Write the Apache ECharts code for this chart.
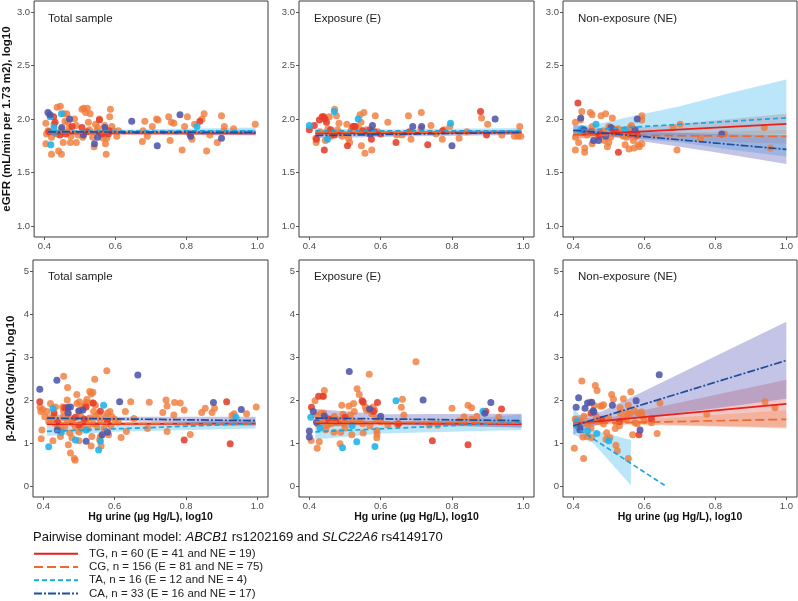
<!DOCTYPE html>
<html><head><meta charset="utf-8">
<script src="https://cdn.jsdelivr.net/npm/echarts@6/dist/echarts.min.js"></script>
<style>html,body{margin:0;padding:0;background:#fff}#c{width:798px;height:601px}</style>
</head><body><div id="c"></div><script>
// ---------- labels ----------
const xTicks = [0.4, 0.6, 0.8, 1.0];
const yTicksTop = [1.0, 1.5, 2.0, 2.5, 3.0];
const yTicksBottom = [0, 1, 2, 3, 4, 5];
const panelTitles = ['Total sample', 'Exposure (E)', 'Non-exposure (NE)'];
const yTitleTop = 'eGFR (mL/min per 1.73 m2), log10';
const yTitleBottom = 'β-2MCG (ng/mL), log10';
const xTitle = 'Hg urine (µg Hg/L), log10';
const groups = ['TG', 'CG', 'TA', 'CA'];
const legendNames = [
  'TG, n = 60 (E = 41 and NE = 19)',
  'CG, n = 156 (E = 81 and NE = 75)',
  'TA, n = 16 (E = 12 and NE = 4)',
  'CA, n = 33 (E = 16 and NE = 17)'
];

// ---------- eGFR, total sample ----------
const egfrTotCG = [[0.404,1.96],[0.406,1.86],[0.404,1.77],[0.42,1.67],[0.41,1.89],[0.42,1.83],[0.427,1.95],[0.436,2.11],[0.445,2.12],[0.434,1.86],[0.44,1.70],[0.448,1.67],[0.448,1.90],[0.453,1.78],[0.455,2.05],[0.458,1.98],[0.463,2.05],[0.466,1.97],[0.466,1.88],[0.47,1.92],[0.473,1.78],[0.475,1.84],[0.485,2.0],[0.49,1.94],[0.49,1.78],[0.495,1.85],[0.506,2.09],[0.508,1.83],[0.511,2.10],[0.516,2.06],[0.521,2.10],[0.524,1.97],[0.527,1.90],[0.529,2.05],[0.536,1.83],[0.54,1.74],[0.544,1.95],[0.548,1.89],[0.55,1.92],[0.555,2.0],[0.563,1.87],[0.566,1.82],[0.57,1.94],[0.572,1.77],[0.574,1.67],[0.576,1.82],[0.584,2.02],[0.586,2.09],[0.59,1.93],[0.595,1.89],[0.604,1.84],[0.609,1.89],[0.678,1.89],[0.676,1.79],[0.683,1.98],[0.69,1.84],[0.704,1.93],[0.716,2.0],[0.72,1.99],[0.75,2.02],[0.754,1.80],[0.758,1.97],[0.765,1.96],[0.788,1.71],[0.795,1.93],[0.803,2.02],[0.816,1.81],[0.823,1.95],[0.844,2.0],[0.85,2.05],[0.857,1.70],[0.866,1.85],[0.887,1.78],[0.899,2.03],[0.907,1.93],[0.906,1.89],[0.933,1.91],[0.994,1.95]];
const egfrTotTG = [[0.413,1.88],[0.426,2.02],[0.444,1.85],[0.478,1.93],[0.506,1.92],[0.555,1.99],[0.562,1.86],[0.582,1.89],[0.43,1.97],[0.46,1.86],[0.52,1.88],[0.58,1.86],[0.838,1.98],[0.81,1.86]];
const egfrTotTA = [[0.416,2.02],[0.448,2.05],[0.427,1.92],[0.418,1.76],[0.83,1.93],[0.43,1.87]];
const egfrTotCA = [[0.41,2.06],[0.416,2.04],[0.449,1.92],[0.471,2.0],[0.51,1.85],[0.541,1.77],[0.55,1.83],[0.57,1.92],[0.646,1.98],[0.718,1.75],[0.782,2.04],[0.812,1.84],[0.899,1.82]];
const egfrTotFits = [ [[0.41,1.865],[0.995,1.865]], [[0.41,1.87],[0.995,1.875]], [[0.41,1.885],[0.995,1.89]], [[0.41,1.88],[0.995,1.875]] ];
const egfrTotBands = [
  [[0.41,1.85,1.88],[0.6,1.855,1.875],[0.995,1.845,1.885]],
  [[0.41,1.858,1.882],[0.6,1.862,1.878],[0.995,1.86,1.89]],
  [[0.41,1.86,1.91],[0.6,1.87,1.90],[0.995,1.86,1.92]],
  [[0.41,1.86,1.90],[0.6,1.865,1.89],[0.995,1.85,1.90]]
];

// ---------- eGFR, exposure ----------
const egfrExpCG = [[0.418,1.82],[0.419,1.78],[0.430,1.88],[0.445,1.80],[0.452,1.91],[0.456,2.02],[0.458,1.86],[0.460,1.84],[0.463,1.85],[0.471,2.09],[0.476,2.03],[0.479,1.90],[0.483,1.96],[0.488,1.87],[0.492,1.84],[0.505,1.95],[0.510,1.82],[0.513,1.78],[0.518,1.90],[0.525,1.92],[0.530,1.93],[0.540,1.91],[0.542,2.04],[0.545,1.97],[0.546,1.75],[0.553,2.06],[0.556,1.68],[0.560,1.90],[0.566,1.87],[0.575,1.71],[0.585,2.03],[0.592,1.88],[0.620,1.97],[0.645,1.85],[0.660,1.85],[0.678,2.03],[0.685,1.81],[0.713,1.91],[0.714,2.06],[0.741,1.94],[0.755,1.86],[0.773,1.81],[0.778,1.90],[0.794,1.93],[0.820,1.82],[0.842,1.88],[0.883,2.01],[0.900,1.95],[0.940,1.85],[0.975,1.84],[0.985,1.84],[0.990,1.93],[0.993,1.84]];
const egfrExpTG = [[0.400,1.90],[0.414,1.94],[0.420,1.81],[0.428,1.99],[0.436,2.02],[0.440,2.02],[0.444,2.00],[0.442,1.71],[0.448,1.97],[0.460,1.90],[0.470,1.85],[0.507,1.75],[0.522,1.93],[0.528,1.93],[0.550,1.89],[0.570,1.90],[0.574,1.81],[0.583,1.88],[0.600,1.86],[0.643,1.78],[0.680,1.88],[0.732,1.76],[0.774,1.89],[0.880,2.07],[0.897,1.85]];
const egfrExpTA = [[0.400,1.94],[0.451,1.81],[0.470,2.07],[0.537,2.00],[0.796,1.96]];
const egfrExpCA = [[0.577,1.94],[0.575,1.88],[0.690,1.93],[0.715,1.93],[0.800,1.75],[0.921,2.00],[0.57,1.86]];
const egfrExpFits = [ [[0.417,1.865],[0.995,1.875]], [[0.417,1.875],[0.995,1.88]], [[0.417,1.89],[0.995,1.89]], [[0.417,1.845],[0.995,1.875]] ];
const egfrExpBands = [
  [[0.417,1.845,1.885],[0.6,1.86,1.88],[0.995,1.855,1.895]],
  [[0.417,1.86,1.89],[0.6,1.868,1.885],[0.995,1.865,1.895]],
  [[0.417,1.87,1.91],[0.6,1.878,1.902],[0.995,1.87,1.915]],
  [[0.417,1.82,1.87],[0.7,1.84,1.88],[0.995,1.85,1.90]]
];

// ---------- eGFR, non-exposure ----------
const egfrNonCG = [[0.406,1.97],[0.406,1.83],[0.406,1.71],[0.415,1.78],[0.424,2.07],[0.42,1.99],[0.424,1.87],[0.432,1.73],[0.432,1.69],[0.439,1.85],[0.448,2.06],[0.453,2.04],[0.453,1.93],[0.453,1.77],[0.478,2.03],[0.491,2.05],[0.485,1.89],[0.487,1.80],[0.496,1.74],[0.5,1.93],[0.5,1.78],[0.505,1.83],[0.51,2.01],[0.513,1.91],[0.527,1.91],[0.533,1.87],[0.541,1.84],[0.546,1.76],[0.55,1.83],[0.557,1.72],[0.56,1.92],[0.564,1.94],[0.569,1.80],[0.571,1.73],[0.576,1.84],[0.583,1.76],[0.586,1.74],[0.593,2.03],[0.593,1.99],[0.593,1.77],[0.681,1.92],[0.701,1.95],[0.692,1.71],[0.758,1.82],[0.826,1.86],[0.938,1.92],[0.955,1.73]];
const egfrNonTG = [[0.413,2.15],[0.472,1.84],[0.476,1.86],[0.513,1.89],[0.52,1.88],[0.527,1.69],[0.56,1.86],[0.45,1.88],[0.58,1.85]];
const egfrNonTA = [[0.424,1.91],[0.464,1.95],[0.546,1.90],[0.42,1.89]];
const egfrNonCA = [[0.421,2.01],[0.457,1.80],[0.471,1.80],[0.491,1.84],[0.506,1.92],[0.574,1.90],[0.58,2.0],[0.818,1.86],[0.43,1.90]];
const egfrNonFits = [ [[0.40,1.85],[1.0,1.955]], [[0.40,1.85],[1.0,1.837]], [[0.40,1.89],[1.0,2.01]], [[0.40,1.895],[1.0,1.716]] ];
const egfrNonBands = [
  [[0.40,1.81,1.89],[0.5,1.84,1.895],[0.7,1.85,1.955],[1.0,1.86,2.05]],
  [[0.40,1.82,1.88],[0.5,1.835,1.865],[0.7,1.80,1.87],[1.0,1.77,1.90]],
  [[0.40,1.84,1.95],[0.45,1.86,1.94],[0.56,1.82,2.02],[0.70,1.78,2.12],[0.85,1.71,2.25],[1.0,1.65,2.37]],
  [[0.40,1.85,1.94],[0.5,1.835,1.895],[0.6,1.79,1.88],[0.8,1.69,1.86],[1.0,1.58,1.85]]
];

// ---------- β-2MCG, total sample ----------
const b2mTotCG = [[0.391,1.83],[0.398,1.78],[0.393,1.73],[0.396,1.30],[0.394,1.10],[0.404,1.61],[0.42,1.92],[0.421,1.57],[0.432,1.46],[0.427,1.05],[0.434,1.84],[0.448,1.15],[0.457,2.55],[0.454,1.84],[0.457,1.73],[0.468,2.29],[0.467,2.0],[0.468,1.50],[0.474,1.23],[0.47,0.96],[0.476,0.77],[0.487,0.64],[0.489,0.60],[0.482,1.46],[0.494,2.13],[0.494,1.92],[0.499,1.73],[0.501,1.96],[0.506,1.34],[0.509,1.84],[0.517,1.88],[0.52,1.94],[0.522,2.01],[0.53,2.20],[0.534,2.14],[0.539,2.18],[0.537,1.93],[0.541,1.73],[0.546,1.61],[0.536,1.15],[0.534,0.93],[0.544,2.48],[0.546,1.88],[0.562,0.93],[0.558,1.08],[0.578,2.68],[0.573,1.61],[0.58,1.46],[0.583,1.19],[0.587,1.73],[0.592,1.61],[0.618,1.13],[0.63,1.73],[0.645,1.96],[0.654,1.57],[0.633,1.27],[0.692,1.34],[0.697,1.95],[0.735,1.71],[0.744,2.0],[0.747,1.86],[0.747,1.27],[0.768,1.94],[0.766,1.65],[0.784,1.93],[0.795,1.77],[0.812,1.20],[0.844,1.71],[0.854,1.81],[0.873,1.71],[0.88,1.81],[0.929,1.64],[0.935,1.68],[0.97,1.68],[0.997,1.84],[0.41,1.73],[0.415,1.50],[0.43,1.62],[0.44,1.40],[0.45,1.30],[0.455,1.60],[0.46,1.38],[0.47,1.68],[0.48,1.55],[0.49,1.38],[0.50,1.25],[0.505,1.62],[0.51,1.45],[0.52,1.52],[0.525,1.33],[0.53,1.58],[0.54,1.45],[0.55,1.40],[0.555,1.68],[0.56,1.52],[0.57,1.34],[0.58,1.70],[0.59,1.40],[0.60,1.55],[0.61,1.48],[0.56,1.15],[0.50,1.05],[0.48,1.12]];
const b2mTotTG = [[0.39,1.96],[0.43,1.70],[0.46,1.82],[0.49,1.60],[0.515,1.55],[0.52,1.84],[0.54,1.93],[0.56,1.74],[0.914,1.96],[0.924,0.98],[0.44,1.48],[0.58,1.50],[0.50,1.42],[0.795,1.07]];
const b2mTotTA = [[0.415,0.91],[0.427,1.80],[0.49,1.07],[0.555,0.84],[0.56,1.04],[0.569,1.88],[0.94,1.60],[0.45,1.25],[0.52,1.30]];
const b2mTotCA = [[0.39,2.25],[0.438,2.46],[0.439,1.30],[0.47,1.83],[0.476,1.84],[0.469,1.70],[0.511,1.77],[0.52,1.04],[0.565,1.19],[0.614,1.96],[0.665,2.58],[0.877,1.94],[0.955,1.78],[0.50,1.75],[0.58,1.25]];
const b2mTotFits = [ [[0.41,1.44],[0.995,1.45]], [[0.41,1.46],[0.995,1.44]], [[0.41,1.27],[0.995,1.45]], [[0.41,1.58],[0.995,1.52]] ];
const b2mTotBands = [
  [[0.41,1.38,1.50],[0.6,1.41,1.48],[0.995,1.39,1.51]],
  [[0.41,1.42,1.50],[0.6,1.43,1.48],[0.995,1.40,1.49]],
  [[0.41,1.16,1.38],[0.6,1.26,1.40],[0.995,1.34,1.57]],
  [[0.41,1.50,1.67],[0.6,1.51,1.61],[0.995,1.43,1.61]]
];

// ---------- β-2MCG, exposure ----------
const b2mExpCG = [[0.405,1.06],[0.416,1.98],[0.419,1.65],[0.423,1.45],[0.422,0.88],[0.428,1.03],[0.433,1.69],[0.44,2.09],[0.442,2.22],[0.44,1.69],[0.446,1.31],[0.447,1.57],[0.461,1.45],[0.469,1.25],[0.467,1.57],[0.48,1.54],[0.479,1.47],[0.486,0.98],[0.488,1.25],[0.491,1.88],[0.494,1.67],[0.497,1.45],[0.511,1.86],[0.515,1.65],[0.519,1.19],[0.524,1.92],[0.526,1.73],[0.534,2.26],[0.54,2.13],[0.54,1.50],[0.551,1.23],[0.557,1.84],[0.56,1.76],[0.568,2.60],[0.568,1.76],[0.575,1.68],[0.579,1.84],[0.583,1.76],[0.587,1.57],[0.589,1.29],[0.59,1.21],[0.589,1.12],[0.646,1.44],[0.658,1.83],[0.661,2.02],[0.665,1.65],[0.699,2.89],[0.736,1.41],[0.76,1.41],[0.8,1.81],[0.82,1.51],[0.834,1.61],[0.845,1.88],[0.855,1.82],[0.855,1.55],[0.87,1.62],[0.931,1.60],[0.43,1.50],[0.45,1.40],[0.47,1.62],[0.50,1.35],[0.52,1.52],[0.55,1.45],[0.57,1.40],[0.60,1.50],[0.62,1.42]];
const b2mExpTG = [[0.406,1.83],[0.426,2.09],[0.438,2.09],[0.454,1.56],[0.474,1.51],[0.548,1.98],[0.551,1.95],[0.58,1.73],[0.591,1.94],[0.745,1.05],[0.845,0.96],[0.895,1.74],[0.939,1.79],[0.5,1.60],[0.65,1.45]];
const b2mExpTA = [[0.404,1.60],[0.493,0.89],[0.533,1.03],[0.584,0.92],[0.643,1.98],[0.887,1.74],[0.43,1.35],[0.52,1.40]];
const b2mExpCA = [[0.40,1.28],[0.40,1.14],[0.411,1.73],[0.442,1.63],[0.512,2.66],[0.569,1.79],[0.719,2.0],[0.909,1.94],[0.42,1.48],[0.6,1.62],[0.892,1.69]];
const b2mExpFits = [ [[0.417,1.46],[0.995,1.44]], [[0.417,1.49],[0.995,1.46]], [[0.417,1.26],[0.995,1.48]], [[0.417,1.58],[0.995,1.52]] ];
const b2mExpBands = [
  [[0.417,1.38,1.54],[0.6,1.42,1.50],[0.995,1.36,1.52]],
  [[0.417,1.43,1.55],[0.6,1.45,1.51],[0.995,1.40,1.52]],
  [[0.417,1.08,1.44],[0.6,1.22,1.42],[0.995,1.30,1.66]],
  [[0.417,1.37,1.79],[0.6,1.45,1.67],[0.995,1.36,1.68]]
];

// ---------- β-2MCG, non-exposure ----------
const b2mNonCG = [[0.403,0.88],[0.405,1.56],[0.41,1.46],[0.415,1.38],[0.424,2.44],[0.427,1.14],[0.429,0.64],[0.44,1.15],[0.447,1.95],[0.452,1.13],[0.462,2.34],[0.467,2.22],[0.459,1.87],[0.465,1.61],[0.476,1.86],[0.481,1.86],[0.485,1.89],[0.485,1.44],[0.492,1.09],[0.494,1.24],[0.503,1.13],[0.508,2.13],[0.513,2.02],[0.52,0.95],[0.524,0.82],[0.518,1.34],[0.532,1.82],[0.532,1.70],[0.541,2.03],[0.549,1.56],[0.55,1.70],[0.555,1.88],[0.559,1.68],[0.562,2.19],[0.567,1.19],[0.555,0.64],[0.571,1.75],[0.574,1.47],[0.583,1.70],[0.592,1.72],[0.594,1.62],[0.636,1.22],[0.644,1.93],[0.776,1.67],[0.94,1.96],[0.968,1.82],[0.42,1.52],[0.43,1.62],[0.44,1.45],[0.45,1.35],[0.47,1.50],[0.50,1.58],[0.52,1.48],[0.53,1.40],[0.54,1.55],[0.58,1.45],[0.60,1.52],[0.62,1.47]];
const b2mNonTG = [[0.53,1.50],[0.48,1.55],[0.585,1.19],[0.45,1.70],[0.62,1.56]];
const b2mNonTA = [[0.466,1.22],[0.41,1.50],[0.44,1.28],[0.50,1.05]];
const b2mNonCA = [[0.415,2.05],[0.408,1.83],[0.419,1.30],[0.418,1.36],[0.433,1.81],[0.452,1.95],[0.456,1.75],[0.458,1.72],[0.51,1.88],[0.577,1.98],[0.588,1.30],[0.642,2.59],[0.44,1.93]];
const b2mNonFits = [ [[0.40,1.45],[1.0,1.91]], [[0.40,1.45],[1.0,1.55]], [[0.40,1.40],[0.66,0.0]], [[0.40,1.40],[1.0,2.92]] ];
const b2mNonBands = [
  [[0.40,1.33,1.57],[0.5,1.46,1.59],[0.7,1.42,1.94],[1.0,1.36,2.47]],
  [[0.40,1.38,1.52],[0.5,1.43,1.50],[0.7,1.40,1.60],[1.0,1.34,1.76]],
  [[0.40,1.19,1.81],[0.457,0.99,1.30],[0.562,0.02,1.07]],
  [[0.40,1.20,1.62],[0.48,1.47,1.73],[0.6,1.60,2.21],[0.8,1.81,3.02],[1.0,2.03,3.82]]
];

// ---------- styling ----------
const FONT = 'Liberation Sans, Arial, Helvetica, sans-serif';
const ptColors = { TG: '#e63e2a', CG: '#f07a3a', TA: '#1db3ea', CA: '#4f55a8' };
const lineColors = { TG: '#e8201c', CG: '#ef6a2a', TA: '#1aa6df', CA: '#1f4c9c' };
const lineTypes = { TG: 'solid', CG: [9, 4], TA: [5, 3], CA: [8, 2, 2, 2] };
const bandColors = { TG: '#d9534f', CG: '#f58a4c', TA: '#5cc3f0', CA: '#6a6cc0' };
const bandOpacity = { TG: 0.33, CG: 0.33, TA: 0.42, CA: 0.40 };

const panels = [
  { pts: [egfrTotTG, egfrTotCG, egfrTotTA, egfrTotCA], fits: egfrTotFits, bands: egfrTotBands, row: 0, col: 0 },
  { pts: [egfrExpTG, egfrExpCG, egfrExpTA, egfrExpCA], fits: egfrExpFits, bands: egfrExpBands, row: 0, col: 1 },
  { pts: [egfrNonTG, egfrNonCG, egfrNonTA, egfrNonCA], fits: egfrNonFits, bands: egfrNonBands, row: 0, col: 2 },
  { pts: [b2mTotTG, b2mTotCG, b2mTotTA, b2mTotCA], fits: b2mTotFits, bands: b2mTotBands, row: 1, col: 0 },
  { pts: [b2mExpTG, b2mExpCG, b2mExpTA, b2mExpCA], fits: b2mExpFits, bands: b2mExpBands, row: 1, col: 1 },
  { pts: [b2mNonTG, b2mNonCG, b2mNonTA, b2mNonCA], fits: b2mNonFits, bands: b2mNonBands, row: 1, col: 2 }
];

const colLeft = [33, 299, 563];
const colWidth = [235, 235, 234];
const rowTop = [1, 260];
const rowHeight = [236, 237];

const grids = [], xAxes = [], yAxes = [], titles = [];
const fitSeries = [], bandSeries = [], ptSeries = [];

panels.forEach((p, i) => {
  grids.push({ left: colLeft[p.col], top: rowTop[p.row], width: colWidth[p.col], height: rowHeight[p.row],
    show: true, borderColor: '#3a3a3a', borderWidth: 1, backgroundColor: 'transparent' });
  xAxes.push({
    type: 'value', gridIndex: i, min: 0.371, max: 1.030, position: 'bottom',
    axisLine: { show: false, onZero: false },
    axisTick: { show: true, inside: false, length: 3, lineStyle: { color: '#555' }, customValues: xTicks },
    axisLabel: { show: true, customValues: xTicks, formatter: v => v.toFixed(1), fontSize: 9.5, color: '#4d4d4d', fontFamily: FONT, margin: 4 },
    splitLine: { show: false },
    name: p.row === 1 ? xTitle : '', nameLocation: 'middle', nameGap: 15,
    nameTextStyle: { fontWeight: 'bold', fontSize: 10.5, color: '#111', fontFamily: FONT }
  });
  const yT = p.row === 0 ? yTicksTop : yTicksBottom;
  yAxes.push({
    type: 'value', gridIndex: i, position: 'left',
    min: p.row === 0 ? 0.898 : -0.256, max: p.row === 0 ? 3.102 : 5.256,
    axisLine: { show: false, onZero: false },
    axisTick: { show: true, inside: false, length: 3, lineStyle: { color: '#555' }, customValues: yT },
    axisLabel: { show: true, customValues: yT, formatter: v => p.row === 0 ? v.toFixed(1) : String(Math.round(v)), fontSize: 9.5, color: '#4d4d4d', fontFamily: FONT, margin: 4 },
    splitLine: { show: false },
    name: p.col === 0 ? (p.row === 0 ? yTitleTop : yTitleBottom) : '',
    nameLocation: 'middle', nameGap: 16,
    nameTextStyle: { fontWeight: 'bold', fontSize: 11.5, color: '#111', fontFamily: FONT }
  });
  titles.push({ text: panelTitles[p.col], left: colLeft[p.col] + 15, top: rowTop[p.row] + (p.row === 0 ? 12 : 11), padding: 0,
    textStyle: { fontSize: 11.5, fontWeight: 'normal', color: '#222', fontFamily: FONT } });

  // confidence bands
  groups.forEach((g, gi) => {
    const band = p.bands[gi];
    bandSeries.push({
      type: 'custom', name: g + ' band', xAxisIndex: i, yAxisIndex: i, silent: true, z: 1,
      data: band.map(r => [r[0], r[1]]), encode: { x: 0, y: 1 },
      renderItem: (params, api) => {
        if (params.dataIndex !== 0) return;
        const up = band.map(r => api.coord([r[0], r[2]]));
        const lo = band.slice().reverse().map(r => api.coord([r[0], r[1]]));
        return { type: 'polygon', shape: { points: up.concat(lo) }, style: { fill: bandColors[g], opacity: bandOpacity[g] } };
      }
    });
  });
  // points (orange first, then red, cyan, blue)
  [1, 0, 2, 3].forEach(gi => {
    const g = groups[gi];
    ptSeries.push({
      type: 'scatter', name: g + ' points', xAxisIndex: i, yAxisIndex: i, z: 2, silent: true,
      data: p.pts[gi], symbolSize: 7,
      itemStyle: { color: ptColors[g], opacity: gi === 1 ? 0.8 : 0.88 }
    });
  });
  // regression lines
  groups.forEach((g, gi) => {
    fitSeries.push({
      type: 'line', name: legendNames[gi], xAxisIndex: i, yAxisIndex: i, z: 3, silent: true,
      data: p.fits[gi], symbol: 'none', showSymbol: false,
      lineStyle: { color: lineColors[g], width: 1.7, type: lineTypes[g] },
      itemStyle: { color: lineColors[g] }
    });
  });
});

titles.push({
  text: '{a|Pairwise dominant model: }{b|ABCB1}{a| rs1202169 and }{b|SLC22A6}{a| rs4149170}',
  left: 33, top: 531, padding: 0,
  textStyle: { fontWeight: 'normal', rich: {
    a: { fontSize: 13, color: '#111', fontWeight: 'normal', fontFamily: FONT },
    b: { fontSize: 13, color: '#111', fontWeight: 'normal', fontStyle: 'italic', fontFamily: FONT }
  } }
});

const chart = echarts.init(document.getElementById('c'), null, { renderer: 'canvas' });
chart.setOption({
  animation: false,
  backgroundColor: '#fff',
  title: titles,
  grid: grids,
  xAxis: xAxes,
  yAxis: yAxes,
  legend: {
    data: legendNames, orient: 'vertical', left: 33, top: 547, padding: 0, height: 60,
    itemWidth: 44, itemHeight: 8, itemGap: 0, selectedMode: false,
    itemStyle: { opacity: 0 },
    textStyle: { fontSize: 11.5, color: '#222', fontFamily: FONT, lineHeight: 13.3, padding: [0, 0, 0, 6] }
  },
  series: fitSeries.concat(bandSeries, ptSeries)
});
</script></body></html>
